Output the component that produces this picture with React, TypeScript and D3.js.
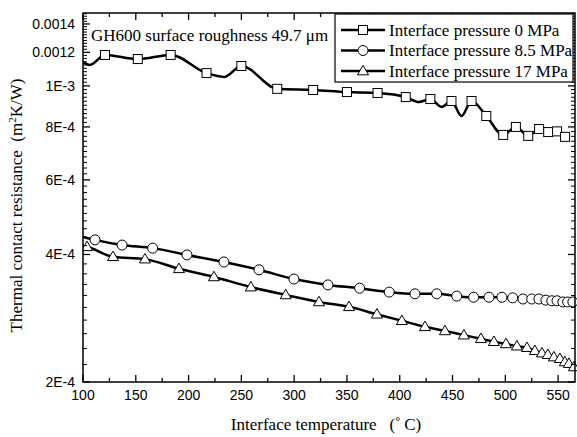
import React from 'react';
import * as d3 from 'd3';

const W = 577;
const H = 437;
const PL = 83, PR = 575, PT = 13, PB = 382;

// 0 MPa (squares); mark = 1 where a marker is drawn
const tempSq = [100, 106.6, 120.8, 151.9, 183, 217, 234, 250, 284, 318, 350, 379, 405.7, 418, 429, 439.6, 449, 458.5, 468, 482, 498, 510, 521.7, 532, 540.6, 549, 556.6];
const resSq = [1.138e-3, 1.12e-3, 1.183e-3, 1.157e-3, 1.183e-3, 1.072e-3, 1.05e-3, 1.114e-3, 0.984e-3, 0.978e-3, 0.967e-3, 0.962e-3, 0.941e-3, 0.916e-3, 0.931e-3, 0.892e-3, 0.921e-3, 0.849e-3, 0.921e-3, 0.849e-3, 0.766e-3, 0.8e-3, 0.762e-3, 0.791e-3, 0.778e-3, 0.781e-3, 0.758e-3];
const markSq = [0, 0, 1, 1, 1, 1, 0, 1, 1, 1, 1, 1, 1, 0, 1, 0, 1, 0, 1, 1, 1, 1, 1, 1, 1, 1, 1];

// 8.5 MPa (circles)
const tempCi = [100, 111.4, 137, 166, 198.5, 233.5, 266.7, 299.8, 332, 362, 390, 414.4, 435, 454, 470, 484.5, 496.8, 507, 516.7, 525, 531.8, 538.4, 544, 549, 554.5, 559, 564];
const resCi = [4.40e-4, 4.33e-4, 4.21e-4, 4.14e-4, 3.99e-4, 3.84e-4, 3.68e-4, 3.50e-4, 3.39e-4, 3.33e-4, 3.26e-4, 3.23e-4, 3.23e-4, 3.19e-4, 3.17e-4, 3.17e-4, 3.17e-4, 3.16e-4, 3.14e-4, 3.14e-4, 3.14e-4, 3.12e-4, 3.11e-4, 3.11e-4, 3.09e-4, 3.09e-4, 3.09e-4];
const markCi = [0, 1, 1, 1, 1, 1, 1, 1, 1, 1, 1, 1, 1, 1, 1, 1, 1, 1, 1, 1, 1, 1, 1, 1, 1, 1, 1];

// 17 MPa (triangles)
const tempTr = [100, 103.8, 128.4, 158.7, 190.9, 224, 259, 292, 323.5, 352, 378.4, 402, 423.9, 442.8, 460.8, 476.9, 489.2, 500.6, 511, 520.5, 528, 534.7, 540.3, 546, 551.7, 556.4, 560.2, 565];
const resTr = [4.19e-4, 4.17e-4, 3.95e-4, 3.90e-4, 3.70e-4, 3.54e-4, 3.35e-4, 3.21e-4, 3.09e-4, 3.01e-4, 2.89e-4, 2.79e-4, 2.70e-4, 2.64e-4, 2.58e-4, 2.53e-4, 2.49e-4, 2.46e-4, 2.43e-4, 2.41e-4, 2.37e-4, 2.34e-4, 2.32e-4, 2.29e-4, 2.27e-4, 2.23e-4, 2.21e-4, 2.17e-4];
const markTr = [0, 1, 1, 1, 1, 1, 1, 1, 1, 1, 1, 1, 1, 1, 1, 1, 1, 1, 1, 1, 1, 1, 1, 1, 1, 1, 1, 1];

const xTicks = [100, 150, 200, 250, 300, 350, 400, 450, 500, 550];
const yTicks = [2e-4, 4e-4, 6e-4, 8e-4, 1e-3, 1.2e-3, 1.4e-3];
const yTickLabels = ['2E-4', '4E-4', '6E-4', '8E-4', '1E-3', '0.0012', '0.0014'];
const seriesNames = ['Interface pressure 0 MPa', 'Interface pressure 8.5 MPa', 'Interface pressure 17 MPa'];
const seriesShapes = ['square', 'circle', 'triangle'];

const x = d3.scaleLinear().domain([100, 566]).range([PL, PR]);
const y = d3.scaleLog().domain([2e-4, 1.486e-3]).range([PB, PT]);

function Marker({ shape, cx, cy }: { shape: string; cx: number; cy: number }) {
  const common = { fill: '#fff', stroke: '#000', strokeWidth: 1 };
  if (shape === 'square') return <rect x={cx - 4.5} y={cy - 4.5} width={9} height={9} {...common} />;
  if (shape === 'circle') return <circle cx={cx} cy={cy} r={5} {...common} />;
  const s = 11, h = 9.5;
  return <path d={`M${cx},${cy - h * 0.6}L${cx + s / 2},${cy + h * 0.4}L${cx - s / 2},${cy + h * 0.4}Z`} {...common} />;
}

export default function App() {
  const series = [
    { t: tempSq, r: resSq, m: markSq },
    { t: tempCi, r: resCi, m: markCi },
    { t: tempTr, r: resTr, m: markTr },
  ];
  const line = d3.line<[number, number]>().x(d => x(d[0])).y(d => y(d[1])).curve(d3.curveMonotoneX);

  const xMinor = d3.range(100, 566, 25).filter(v => v % 50 !== 0);
  const yMinor = d3.range(22, 149, 2).map(v => v * 1e-5).filter(v => Math.round(v * 1e5) % 20 !== 0);

  const tickFont = { fontFamily: 'Arial, "Liberation Sans", sans-serif', fontSize: 14 };
  const serifFont = { fontFamily: '"Times New Roman", "Liberation Serif", serif', fontSize: 17 };

  const legX = 335, legY = 14, legW = 238, legH = 68;

  return (
    <svg width={W} height={H} style={{ position: 'absolute', left: 0, top: 0, background: '#fff' }}>
      <rect x={0} y={0} width={W} height={H} fill="#fff" />
      <defs>
        <clipPath id="plotclip">
          <rect x={PL} y={PT - 6} width={PR - PL + 2} height={PB - PT + 12} />
        </clipPath>
      </defs>

      {/* data */}
      <g clipPath="url(#plotclip)">
        {series.map((s, i) => (
          <path key={'l' + i} d={line(s.t.map((t, j) => [t, s.r[j]] as [number, number])) || ''} fill="none" stroke="#000" strokeWidth={2.5} />
        ))}
        {series.map((s, i) =>
          s.t.map((t, j) => (s.m[j] ? <Marker key={`m${i}-${j}`} shape={seriesShapes[i]} cx={x(t)} cy={y(s.r[j])} /> : null))
        )}
      </g>

      {/* frame */}
      <rect x={PL} y={PT} width={PR - PL} height={PB - PT} fill="none" stroke="#000" strokeWidth={1.5} />

      {/* x ticks bottom & top */}
      {xTicks.map(v => (
        <g key={'xt' + v}>
          <line x1={x(v)} x2={x(v)} y1={PB} y2={PB - 7} stroke="#000" strokeWidth={1.3} />
          <line x1={x(v)} x2={x(v)} y1={PT} y2={PT + 7} stroke="#000" strokeWidth={1.3} />
          <text x={x(v)} y={PB + 18} textAnchor="middle" {...tickFont}>{v}</text>
        </g>
      ))}
      {xMinor.map(v => (
        <g key={'xm' + v}>
          <line x1={x(v)} x2={x(v)} y1={PB} y2={PB - 4} stroke="#000" strokeWidth={1.3} />
          <line x1={x(v)} x2={x(v)} y1={PT} y2={PT + 4} stroke="#000" strokeWidth={1.3} />
        </g>
      ))}

      {/* y ticks left & right */}
      {yTicks.map((v, i) => (
        <g key={'yt' + i}>
          <line x1={PL} x2={PL + 7} y1={y(v)} y2={y(v)} stroke="#000" strokeWidth={1.3} />
          <line x1={PR} x2={PR - 7} y1={y(v)} y2={y(v)} stroke="#000" strokeWidth={1.3} />
          <text x={PL - 8} y={y(v) + 5} textAnchor="end" {...tickFont}>{yTickLabels[i]}</text>
        </g>
      ))}
      {yMinor.map((v, i) => (
        <g key={'ym' + i}>
          <line x1={PL} x2={PL + 4} y1={y(v)} y2={y(v)} stroke="#000" strokeWidth={1} />
          <line x1={PR} x2={PR - 4} y1={y(v)} y2={y(v)} stroke="#000" strokeWidth={1} />
        </g>
      ))}

      {/* annotation */}
      <text x={91} y={41} {...serifFont}>GH600 surface roughness 49.7 μm</text>

      {/* legend */}
      <rect x={legX} y={legY} width={legW} height={legH} fill="#fff" stroke="#000" strokeWidth={1.2} />
      {seriesNames.map((n, i) => {
        const cy = legY + 16 + i * 20.5;
        return (
          <g key={'lg' + i}>
            <line x1={legX + 6} x2={legX + 50} y1={cy} y2={cy} stroke="#000" strokeWidth={2.5} />
            <Marker shape={seriesShapes[i]} cx={legX + 28} cy={cy} />
            <text x={legX + 54} y={cy + 5.5} {...serifFont}>{n}</text>
          </g>
        );
      })}

      {/* axis titles */}
      <text x={326} y={430} textAnchor="middle" {...serifFont}>Interface temperature{'\u00a0\u00a0\u00a0'}(˚{'\u2009'}C)</text>
      <text transform={`translate(22,${(PT + PB) / 2 + 8}) rotate(-90)`} textAnchor="middle" {...serifFont}>
        Thermal contact resistance{'\u00a0\u00a0'}(m<tspan dy={-6} fontSize={11}>2</tspan><tspan dy={6}>K/W)</tspan>
      </text>
    </svg>
  );
}
